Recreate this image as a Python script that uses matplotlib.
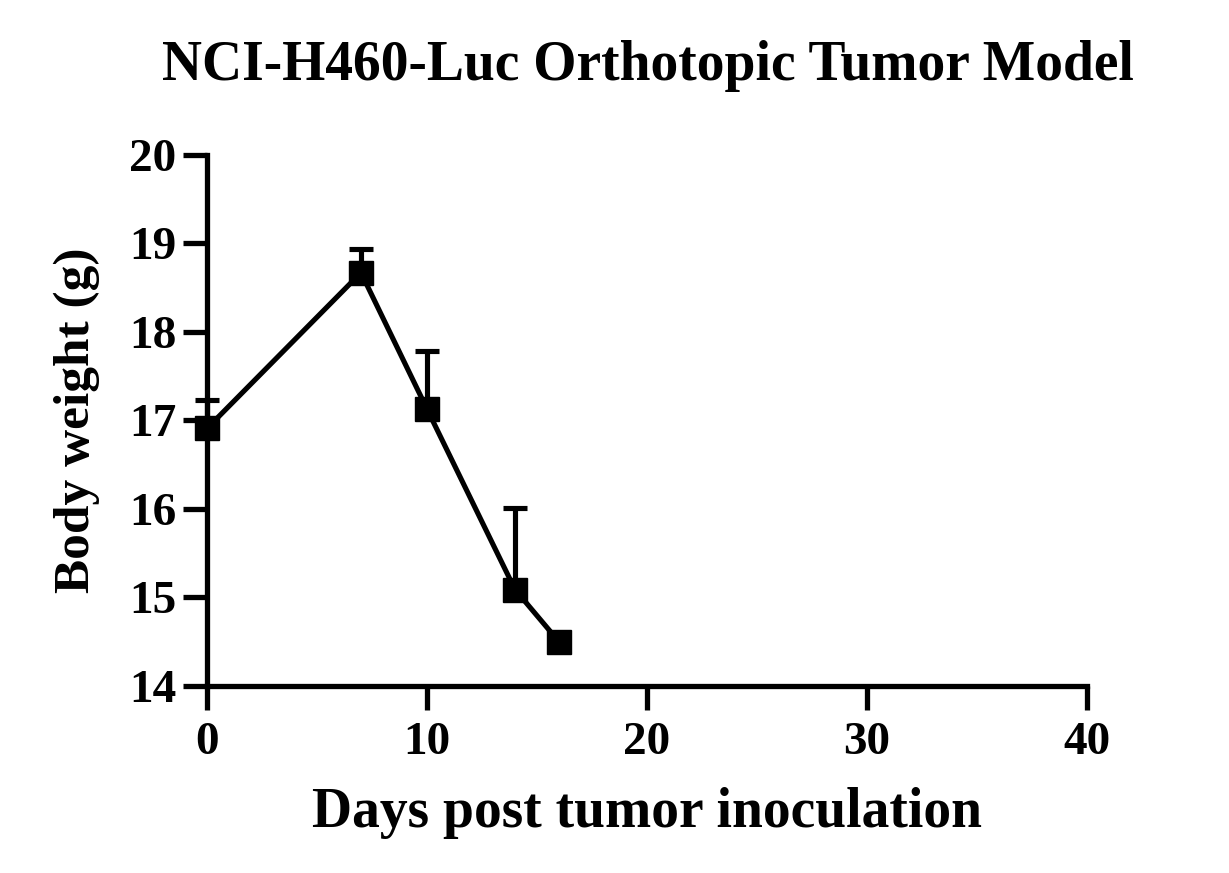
import matplotlib

matplotlib.use("Agg")
import matplotlib.pyplot as plt
import numpy as np

# body weight, mean with upper SEM bar
days = [0, 7, 10, 14, 16]
weight = [16.91, 18.67, 17.13, 15.09, 14.50]
err_up = [0.32, 0.27, 0.66, 0.92, 0.0]
x_ticks = [0, 10, 20, 30, 40]
y_ticks = [14, 15, 16, 17, 18, 19, 20]

plt.rcParams["font.family"] = ["Liberation Serif", "DejaVu Serif"]
plt.rcParams["font.weight"] = "bold"

fig = plt.figure(figsize=(12.29, 8.73), dpi=100)
ax = fig.add_axes([0.1684, 0.2142, 0.8845 - 0.1684, 0.8225 - 0.2142])

lower = np.zeros(len(err_up))
ax.errorbar(days, weight, yerr=[lower, err_up], fmt="s-", color="black",
            ms=17.5, lw=3.7, elinewidth=3.7, capsize=8.5, capthick=3.7,
            clip_on=False, zorder=3)

ax.set_xlim(0, 40)
ax.set_ylim(14, 20)
ax.set_xticks(x_ticks)
ax.set_yticks(y_ticks)
for s in ("top", "right"):
    ax.spines[s].set_visible(False)
for s in ("left", "bottom"):
    ax.spines[s].set_linewidth(3.8)
    ax.spines[s].set_capstyle("projecting")
ax.tick_params(width=3.8, length=17, labelsize=34)
ax.tick_params(axis="x", pad=9)
ax.tick_params(axis="y", pad=5)
for lab in ax.get_xticklabels() + ax.get_yticklabels():
    lab.set_fontweight("bold")

ax.set_xlabel("Days post tumor inoculation", fontsize=40, fontweight="bold")
ax.xaxis.set_label_coords(0.5, -0.24)
ax.xaxis.label.set_va("center")
ax.set_ylabel("Body weight (g)", fontsize=37, fontweight="bold")
ax.yaxis.set_label_coords(-0.148, 0.5)
ax.yaxis.label.set_va("center")

fig.text(0.527, 0.924, "NCI-H460-Luc Orthotopic Tumor Model", fontsize=40,
         fontweight="bold", ha="center", va="center")

fig.savefig("out.png", dpi=100)
